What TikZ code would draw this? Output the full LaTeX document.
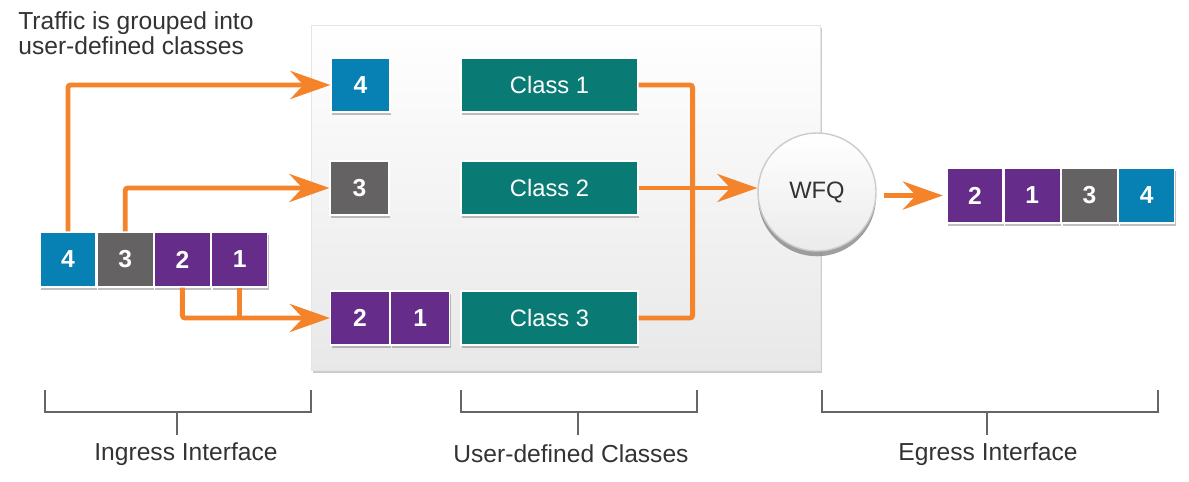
\documentclass[tikz,border=0pt]{standalone}
\usepackage{fontspec}
\setmainfont{Liberation Sans}
\usetikzlibrary{arrows.meta,positioning,shadows}
\definecolor{pktblue}{HTML}{0780B4}
\definecolor{pktgray}{HTML}{656263}
\definecolor{pktpurple}{HTML}{652C89}
\definecolor{clsteal}{HTML}{0A7B74}
\definecolor{flowor}{HTML}{F5832A}
\definecolor{txtgray}{HTML}{333333}
\definecolor{brkgray}{HTML}{666666}

\begin{document}
\begin{tikzpicture}[x=0.02cm, y=-0.02cm,
  pkt/.style={minimum width=1.12cm, minimum height=1.1cm, inner sep=0pt,
    draw=white, line width=0.7pt, text=white,
    font=\fontsize{14}{16}\selectfont\bfseries,
    drop shadow={shadow xshift=0.6pt, shadow yshift=-1.8pt, opacity=0.5}},
  qpkt/.style={pkt, minimum width=1.18cm, minimum height=1.08cm},
  cls/.style={pkt, minimum width=3.54cm, minimum height=1.08cm, fill=clsteal,
    font=\fontsize{13.5}{16}\selectfont},
  flowline/.style={draw=flowor, line width=2.8pt, rounded corners=1.5pt},
  flowarrow/.style={flowline, -{Stealth[length=8mm, width=5.6mm, inset=2.6mm]}},
  bracket/.style={draw=brkgray, line width=0.8pt},
  lbl/.style={text=txtgray, font=\fontsize{14}{14.5}\selectfont}]
\useasboundingbox (0,0) rectangle (1189,481);
\fill[white] (0,0) rectangle (1189,481);

% Panel
\path[top color=white, bottom color=black!9, draw=black!10,
  drop shadow={shadow xshift=1pt, shadow yshift=-1.5pt, opacity=0.4}]
  (311,25) rectangle (820,370);

\node[lbl, anchor=north west, align=left, inner sep=0pt] (title) at (18,11)
  {Traffic is grouped into\\user-defined classes};

% Ingress queue
\node[pkt, fill=pktblue] (in4) at (68,259.5) {4};
\node[pkt, fill=pktgray, right=0pt of in4] (in3) {3};
\node[pkt, fill=pktpurple, right=0pt of in3] (in2) {2};
\node[pkt, fill=pktpurple, right=0pt of in2] (in1) {1};

% Classified packets
\node[qpkt, fill=pktblue] (q4) at (360.5,85) {4};
\node[qpkt, fill=pktgray] (q3) at (359.5,188) {3};
\node[qpkt, fill=pktpurple] (q2) at (360,318) {2};
\node[qpkt, fill=pktpurple, right=0pt of q2] (q1) {1};

% Classes
\node[cls] (c1) at (549.5,85) {Class 1};
\node[cls] (c2) at (549.5,188) {Class 2};
\node[cls] (c3) at (549.5,318) {Class 3};

% Scheduler
\node[circle, minimum size=2.36cm, draw=black!20, line width=0.8pt,
  top color=white, bottom color=black!8, text=txtgray,
  font=\fontsize{13.5}{16}\selectfont,
  drop shadow={shadow xshift=0pt, shadow yshift=-3pt, opacity=0.75}]
  (wfq) at (817,192) {WFQ};

% Egress queue
\node[pkt, fill=pktpurple] (eg2) at (975,195.5) {2};
\node[pkt, fill=pktpurple, right=0pt of eg2] (eg1) {1};
\node[pkt, fill=pktgray, right=0pt of eg1] (eg3) {3};
\node[pkt, fill=pktblue, right=0pt of eg3] (eg4) {4};

% Flows
\draw[flowarrow] (in4.north) |- (q4.west);
\draw[flowarrow] (in3.north) |- (q3.west);
\draw[flowarrow] (in2.south) |- (q2.west);
\draw[flowline] (in1.south) -- (in1.south |- q2.west);
\draw[flowline] (c1.east) -- ++(54,0) |- (c3.east);
\draw[flowarrow] (c2.east) -- (c2.east -| wfq.west);
\draw[flowarrow, shorten <=4pt, shorten >=2pt] (wfq.east |- eg2.west) -- (eg2.west);

% Brackets
\draw[bracket] (45,390) |- (311,412) -- (311,390);
\draw[bracket] (177,412) -- (177,435);
\node[lbl] (inglbl) at (186,454) {Ingress Interface};
\draw[bracket] (461,390) |- (697,412) -- (697,390);
\draw[bracket] (578,412) -- (578,435);
\node[lbl] (clslbl) at (571,454) {User-defined Classes};
\draw[bracket] (822,390) |- (1158,412) -- (1158,390);
\draw[bracket] (987,412) -- (987,435);
\node[lbl] (eglbl) at (988,454) {Egress Interface};
\end{tikzpicture}
\end{document}
